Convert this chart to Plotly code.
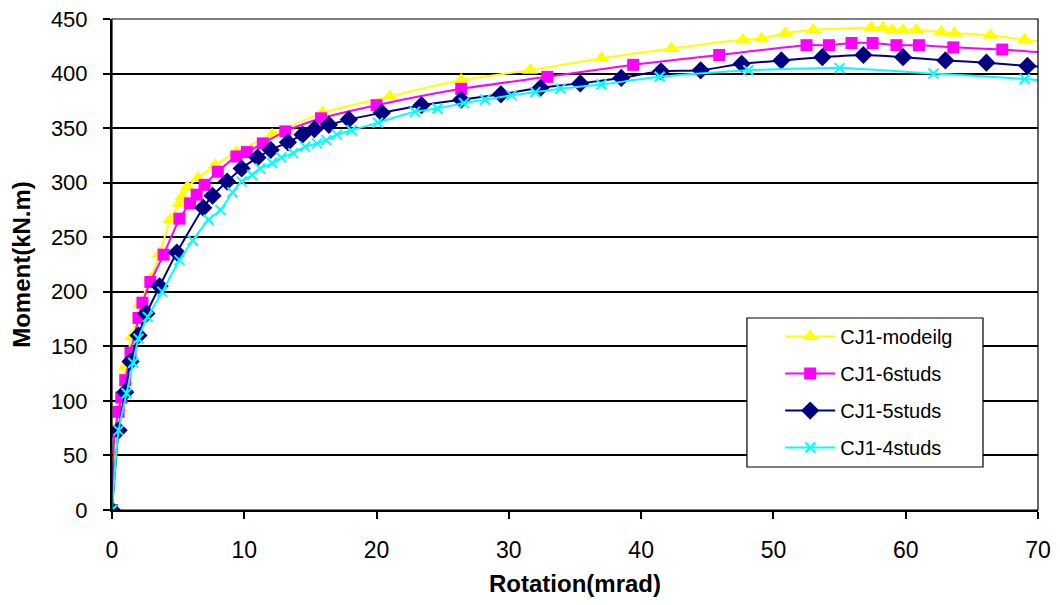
import plotly.graph_objects as go

# ---- data ----
modeilg_x = [0, 0.3, 0.6, 1.0, 1.5, 2.1, 2.9, 3.6, 4.4, 5.1, 5.3, 5.7, 6.5, 7.8, 9.4, 12.1, 15.9, 21.0, 26.4,
             31.6, 37.0, 42.3, 47.7, 49.1, 50.9, 53.0, 57.4, 58.3, 59.0, 59.8, 60.8, 62.7, 63.7, 66.4, 69.0, 70.7]
modeilg_y = [0, 75, 94, 131, 159, 188, 212, 235, 266, 281, 287, 296, 304, 316, 328, 344, 364, 379, 394,
             403, 414, 423, 431, 432, 437, 440, 442, 442, 440, 440, 440, 438, 437, 435, 431, 429]

s6_x = [0, 0.2, 0.5, 0.7, 1.0, 1.4, 2.0, 2.3, 2.9, 3.9, 5.1, 5.9, 6.4, 7.0, 8.0, 9.4, 10.2, 11.4, 13.1, 15.8,
        20.0, 26.4, 32.9, 39.4, 45.9, 52.5, 54.2, 55.9, 57.5, 59.3, 61.0, 63.6, 67.3, 70.7]
s6_y = [0, 72, 90, 103, 119, 144, 176, 190, 209, 234, 267, 281, 289, 298, 310, 324, 328, 336, 347, 359,
        371, 386, 397, 408, 417, 426, 426, 428, 428, 426, 426, 424, 422, 419]

s5_x = [0, 0.5, 1.0, 1.4, 2.0, 2.6, 3.6, 4.9, 6.9, 7.6, 8.7, 9.8, 11.0, 12.0, 13.3, 14.4, 15.3, 16.4, 17.9,
        20.4, 23.4, 26.4, 29.4, 32.4, 35.4, 38.5, 41.5, 44.5, 47.6, 50.6, 53.7, 56.8, 59.8, 63.0, 66.1, 69.2, 70.7]
s5_y = [0, 73, 108, 136, 160, 180, 205, 236, 277, 288, 301, 313, 323, 330, 337, 344, 349, 353, 358,
        364, 371, 376, 381, 387, 391, 396, 402, 403, 409, 412, 415, 417, 415, 412, 410, 407, 406]

s4_x = [0, 0.5, 1.1, 1.6, 2.0, 2.7, 3.8, 5.1, 6.1, 7.3, 8.2, 9.1, 9.8, 10.6, 11.2, 12.1, 12.8, 13.7, 14.6,
        15.5, 16.2, 17.0, 18.1, 20.1, 22.9, 24.6, 26.6, 28.2, 30.2, 32.0, 33.9, 37.0, 41.4, 48.1, 55.0,
        62.1, 69.0, 70.7]
s4_y = [0, 73, 107, 135, 157, 177, 200, 229, 247, 266, 275, 291, 301, 307, 313, 318, 323, 327, 333,
        336, 339, 344, 348, 355, 365, 368, 373, 376, 380, 383, 386, 390, 397, 403, 405,
        400, 395, 393]

x_ticks = [0, 10, 20, 30, 40, 50, 60, 70]
y_ticks = [0, 50, 100, 150, 200, 250, 300, 350, 400, 450]

series = [
    ("CJ1-modeilg", modeilg_x, modeilg_y, "#FFFF00", "triangle-up", 14),
    ("CJ1-6studs", s6_x, s6_y, "#FF00FF", "square", 12),
    ("CJ1-5studs", s5_x, s5_y, "#000080", "diamond", 14),
    ("CJ1-4studs", s4_x, s4_y, "#00FFFF", "x-thin", 10),
]

fig = go.Figure()
for i, (name, xs, ys, col, sym, sz) in enumerate(series):
    fig.add_trace(go.Scatter(
        x=xs, y=ys, name=name, mode="lines+markers", legendgroup=f"g{i}",
        line=dict(color=col, width=2, shape="spline", smoothing=0.6),
        marker=dict(color=col, symbol=sym, size=sz,
                    line=dict(color=col, width=2 if sym == "x-thin" else 0)),
    ))

font_main = "Liberation Sans, Arial, sans-serif"

fig.update_layout(
    width=1052, height=589,
    margin=dict(l=104, r=22, t=11, b=87, autoexpand=False),
    paper_bgcolor="white", plot_bgcolor="white",
    font=dict(family=font_main, size=24, color="black"),
    showlegend=True,
    legend=dict(
        x=0.7216, y=0.393, xanchor="left", yanchor="top",
        bgcolor="rgba(0,0,0,0)", borderwidth=0,
        font=dict(size=20, family=font_main),
        itemwidth=50, tracegroupgap=8,
    ),
    xaxis=dict(
        range=[0, 70], tickvals=x_ticks, ticktext=[str(v) for v in x_ticks],
        showgrid=False, zeroline=False, automargin=False,
        showline=True, linecolor="black", linewidth=2,
        ticks="outside", ticklen=7, tickwidth=1.5, tickcolor="black",
        tickfont=dict(size=23), ticklabeloverflow="allow",
        ticklabelstandoff=11,
        title=dict(text="<b>Rotation(mrad)</b>", standoff=21, font=dict(size=24)),
    ),
    yaxis=dict(
        range=[0, 450], tickvals=y_ticks, ticktext=[str(v) for v in y_ticks],
        showgrid=True, gridcolor="black", gridwidth=1.5, zeroline=False, automargin=False,
        showline=True, linecolor="black", linewidth=2,
        ticks="outside", ticklen=7, tickwidth=1.5, tickcolor="black",
        tickfont=dict(size=22), ticklabeloverflow="allow",
        ticklabelstandoff=11,
        title=dict(text="<b>Moment(kN.m)</b>", standoff=14, font=dict(size=24)),
    ),
)

# plot-area frame (top/right edges)
fig.add_shape(type="rect", xref="paper", yref="paper", x0=0, y0=0, x1=1, y1=1,
              line=dict(color="black", width=1.2), layer="above")
# legend box
fig.add_shape(type="rect", xref="paper", yref="paper", x0=0.6857, y0=0.0876, x1=0.9406, y1=0.391,
              line=dict(color="black", width=1.2), fillcolor="white", layer="above")

fig.write_html("out.html")
